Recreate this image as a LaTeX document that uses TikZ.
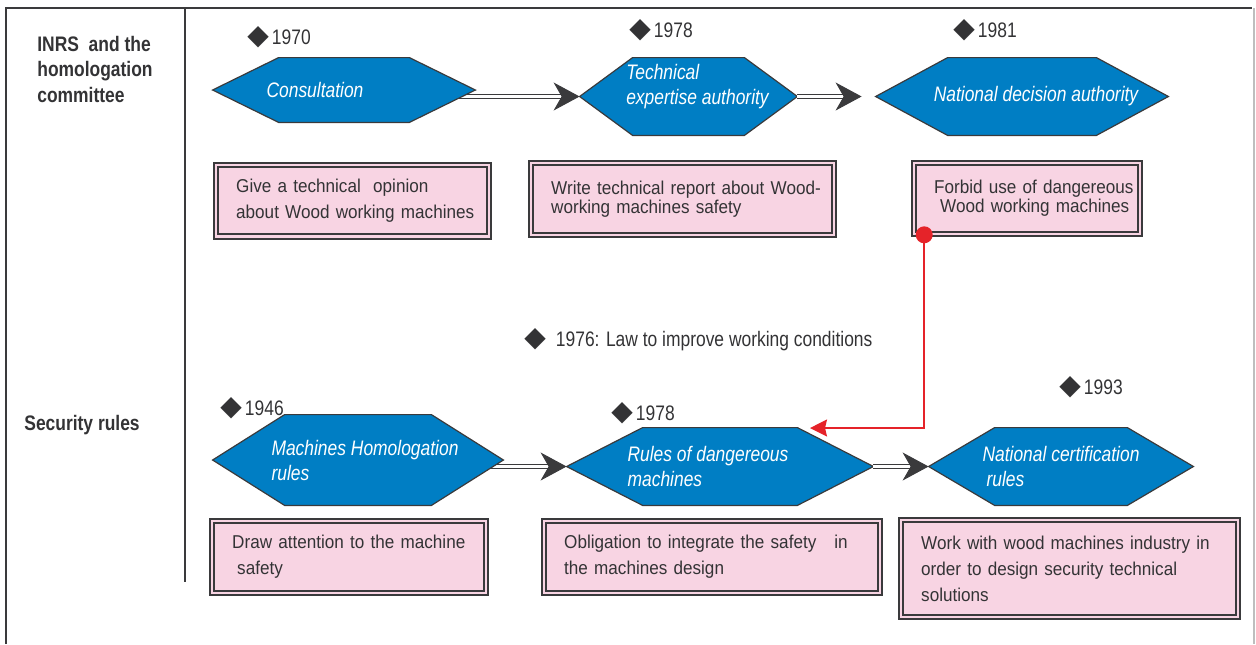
\documentclass[tikz,border=0pt]{standalone}
\usepackage{fontspec}
\setmainfont[FakeStretch=0.92]{Liberation Sans}
\newfontfamily\narrowsf[FakeStretch=0.83]{Liberation Sans}
\newfontfamily\symbolsf{DejaVu Sans}
\usetikzlibrary{arrows.meta,positioning,backgrounds}

\definecolor{hexblue}{RGB}{0,126,196}
\definecolor{notepink}{RGB}{248,212,227}
\definecolor{edgegray}{RGB}{58,58,60}
\definecolor{txtgray}{RGB}{51,51,53}
\definecolor{linkred}{RGB}{229,35,41}
\definecolor{framegray}{RGB}{190,190,190}

\newcommand{\dmd}{{\symbolsf\fontsize{14}{14}\selectfont ◆}}

\begin{document}
\begin{tikzpicture}[x=0.5pt,y=-0.5pt,
  hexa/.style={rectangle,inner sep=0pt,text=white,align=left,
    font=\narrowsf\itshape\fontsize{10.5}{12.5}\selectfont},
  hexline/.style={draw=edgegray,line width=0.6pt,fill=hexblue},
  note/.style={rectangle,draw=edgegray,line width=1pt,double=notepink,double distance=1.2pt,
    fill=notepink,text=txtgray,font=\fontsize{9.3}{13}\selectfont,align=left,
    inner xsep=10pt,inner ysep=0pt},
  year/.style={anchor=west,inner sep=0pt,text=txtgray,font=\narrowsf\fontsize{10.5}{12.5}\selectfont},
  lane/.style={anchor=west,inner sep=0pt,text=txtgray,align=left,
    font=\narrowsf\bfseries\fontsize{10.5}{12.75}\selectfont},
  flow/.style={draw=edgegray,line width=0.5pt,double=white,double distance=1.5pt,
    -{Stealth[length=13pt,width=14pt,inset=4pt]}},
  redlink/.style={draw=linkred,line width=0.8pt,-{Stealth[length=8.5pt,width=8.5pt,inset=1pt]}}]
\useasboundingbox (0,0) rectangle (1256,644);

% frame and lanes
\draw[edgegray,line width=1pt] (6,644) -- (6,8) -- (1252,8);
\draw[framegray,line width=0.8pt] (1254,8) -- (1254,644);
\draw[edgegray,line width=0.8pt] (185,8) -- (185,582);
\node[lane] (inrs) at (37,69) {INRS\ \ and the\\homologation\\committee};
\node[lane] (secu) at (24,425) {Security rules};

% upper lane
\node[year] (y70) at (247,37) {\dmd\hspace{1.5pt}1970};
\node[year] (y78a) at (629,30) {\dmd\hspace{1.5pt}1978};
\node[year] (y81) at (953,30) {\dmd\hspace{1.5pt}1981};
\node[hexa,minimum width=131pt,minimum height=32pt] (cons) at (344,90) {Consultation\hspace{29pt}};
\node[hexa,minimum width=108.5pt,minimum height=38.5pt] (texp) at (688.5,96.5) {\hspace*{9pt}Technical\\\hspace*{9pt}expertise authority\\\mbox{}};
\node[hexa,minimum width=146pt,minimum height=38.5pt] (ndec) at (1022,96.5) {\hspace{14pt}National decision authority};
\node[note,text width=116.3pt,minimum height=35.8pt] (opin) at (352.5,200.5) {\mbox{Give a technical\ \ opinion}\\\mbox{about Wood working machines}};
\node[note,text width=131.3pt,minimum height=35.8pt] (report) at (682.5,199) {\mbox{Write technical report about Wood-}\\[-3.5pt]\mbox{working machines safety}};
\node[note,text width=92.8pt,minimum height=35.3pt] (forbid) at (1027,198.5) {\mbox{Forbid use of dangereous}\\[-3.5pt]\hspace*{3pt}\mbox{Wood working machines}};

% law
\node[year] (law76) at (524,340) {\dmd\hspace{5pt}1976: Law to improve working conditions};

% lower lane
\node[year] (y46) at (220,408) {\dmd\hspace{1.5pt}1946};
\node[year] (y78b) at (611,413) {\dmd\hspace{1.5pt}1978};
\node[year] (y93) at (1059,387) {\dmd\hspace{1.5pt}1993};
\node[hexa,minimum width=145pt,minimum height=45pt] (mhom) at (358,460) {\hspace*{7pt}Machines Homologation\\\hspace*{7pt}rules};
\node[hexa,minimum width=153pt,minimum height=38.5pt] (rdang) at (720,466.5) {Rules of dangereous\hspace*{12pt}\\machines};
\node[hexa,minimum width=132pt,minimum height=38.5pt] (ncert) at (1061,466.5) {National certification\\\hspace*{2pt}rules};
\node[note,text width=116.8pt,minimum height=35.8pt] (attn) at (349,557) {\mbox{Draw attention to the machine}\\\hspace*{2.5pt}safety};
\node[note,text width=147.8pt,minimum height=35.8pt] (oblig) at (712,557) {\mbox{Obligation to integrate the safety\hspace{9pt}in}\\the machines design};
\node[note,text width=148.3pt,minimum height=48.3pt] (indus) at (1069.5,568.5) {\mbox{Work with wood machines industry in}\\order to design security technical\\solutions};

% connectors, hexagons behind the texts
\begin{scope}[on background layer]
\draw[flow] ([xshift=-9pt]cons.east |- texp.west) -- (texp.west);
\draw[flow] ([xshift=-7pt]mhom.east |- rdang.west) -- (rdang.west);
\foreach \h/\d in {cons/33pt,texp/26.5pt,ndec/36pt,mhom/36pt,rdang/38pt,ncert/33pt}
  \filldraw[hexline] (\h.west) -- ([xshift=\d]\h.north west) -- ([xshift=-\d]\h.north east)
    -- (\h.east) -- ([xshift=-\d]\h.south east) -- ([xshift=\d]\h.south west) -- cycle;
\end{scope}
\draw[flow,shorten >=7pt] (texp.east) -- (ndec.west);
\draw[flow] (rdang.east) -- (ncert.west);
\coordinate (redstart) at ([xshift=5.5pt]forbid.south west);
\coordinate (redend) at (810,428);
\draw[redlink] (redstart) |- (redend);
\fill[linkred] (redstart) circle (4.25pt);
\end{tikzpicture}
\end{document}
